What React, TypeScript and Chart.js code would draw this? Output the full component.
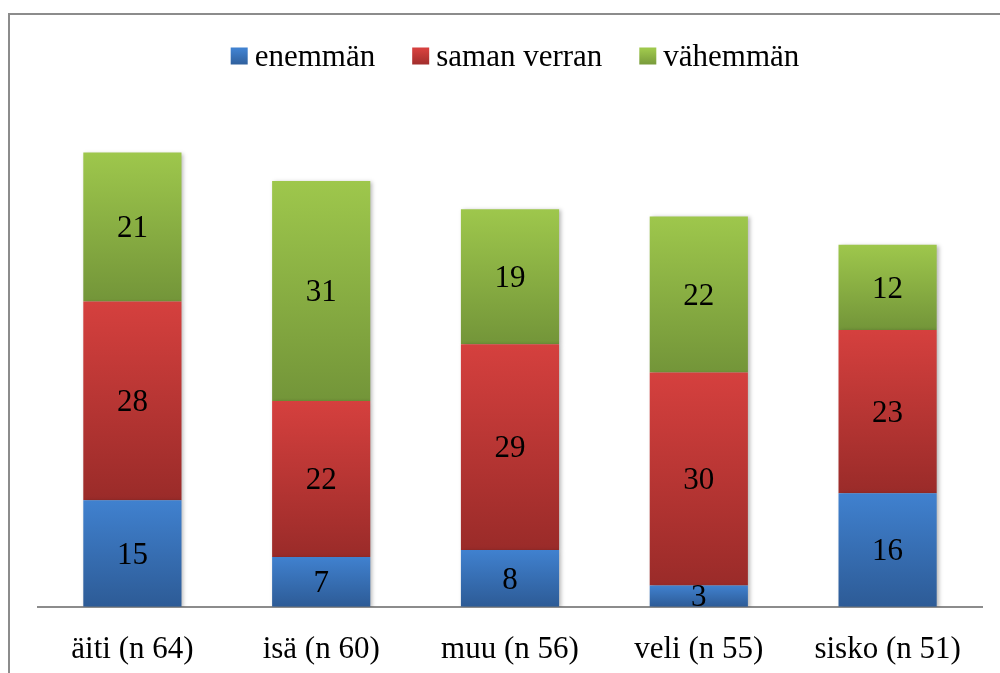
import React, { useEffect, useRef } from "react";
import { Chart, registerables } from "chart.js";

Chart.register(...registerables);

const categories = ["äiti (n 64)", "isä (n 60)", "muu (n 56)", "veli (n 55)", "sisko (n 51)"];
const seriesNames = ["enemmän", "saman verran", "vähemmän"];
const enemman = [15, 7, 8, 3, 16];
const samanVerran = [28, 22, 29, 30, 23];
const vahemman = [21, 31, 19, 22, 12];
const seriesValues = [enemman, samanVerran, vahemman];

const gradTop = ["#4081cf", "#d5403e", "#9ec74c"];
const gradBottom = ["#2d5b96", "#9a2b29", "#739539"];
const legendFill = ["#3a73bb", "#c03936", "#8db044"];

const FONT = "'Liberation Serif', 'Times New Roman', serif";

export default function App() {
  const ref = useRef<HTMLCanvasElement | null>(null);

  useEffect(() => {
    if (!ref.current) return;

    const framePlugin = {
      id: "frame",
      beforeDraw(chart: any) {
        const c = chart.ctx;
        c.save();
        c.fillStyle = "#ffffff";
        c.fillRect(0, 0, chart.width, chart.height);
        c.strokeStyle = "#8c8c8c";
        c.lineWidth = 2;
        c.beginPath();
        c.moveTo(9, chart.height + 5);
        c.lineTo(9, 14);
        c.lineTo(chart.width + 5, 14);
        c.stroke();
        c.restore();
      },
    };

    const shadowPlugin = {
      id: "barShadow",
      beforeDatasetsDraw(chart: any) {
        const c = chart.ctx;
        c.save();
        c.shadowColor = "rgba(0,0,0,0.28)";
        c.shadowBlur = 4;
        c.shadowOffsetX = 2;
        c.shadowOffsetY = 1;
      },
      afterDatasetsDraw(chart: any) {
        chart.ctx.restore();
      },
    };

    const labelPlugin = {
      id: "segLabels",
      afterDatasetsDraw(chart: any) {
        const c = chart.ctx;
        c.save();
        c.shadowColor = "transparent";
        c.fillStyle = "#000000";
        c.font = `31px ${FONT}`;
        c.textAlign = "center";
        c.textBaseline = "middle";
        chart.data.datasets.forEach((ds: any, di: number) => {
          const meta = chart.getDatasetMeta(di);
          meta.data.forEach((el: any, i: number) => {
            const v = ds.data[i];
            const y = (el.y + el.base) / 2;
            c.fillText(String(v), el.x, y + 2);
          });
        });
        c.restore();
      },
    };

    const legendPlugin = {
      id: "customLegend",
      afterDraw(chart: any) {
        const c = chart.ctx;
        c.save();
        c.font = `31px ${FONT}`;
        c.textBaseline = "middle";
        c.textAlign = "left";
        const box = 17;
        const gap = 7;
        const spacing = 37;
        const widths = seriesNames.map((n) => c.measureText(n).width);
        const total =
          widths.reduce((a, w) => a + box + gap + w, 0) + spacing * (seriesNames.length - 1);
        let x = 515 - total / 2;
        const cy = 58;
        seriesNames.forEach((n, i) => {
          const g = c.createLinearGradient(0, cy - box / 2, 0, cy + box / 2);
          g.addColorStop(0, gradTop[i]);
          g.addColorStop(1, gradBottom[i]);
          c.fillStyle = g;
          c.fillRect(x, cy - box / 2 - 2, box, box);
          c.fillStyle = "#000000";
          c.fillText(n, x + box + gap, cy);
          x += box + gap + widths[i] + spacing;
        });
        c.restore();
      },
    };

    const makeBg = (di: number) => (ctx: any) => {
      const chart = ctx.chart;
      const ys = chart.scales && chart.scales.y;
      if (!chart.chartArea || !ys || ctx.type !== "data") return legendFill[di];
      const i = ctx.dataIndex;
      let base = 0;
      for (let k = 0; k < di; k++) base += seriesValues[k][i];
      const top = ys.getPixelForValue(base + seriesValues[di][i]);
      const bottom = ys.getPixelForValue(base);
      if (!isFinite(top) || !isFinite(bottom) || top === bottom) return legendFill[di];
      const g = chart.ctx.createLinearGradient(0, top, 0, bottom);
      g.addColorStop(0, gradTop[di]);
      g.addColorStop(1, gradBottom[di]);
      return g;
    };

    const chart = new Chart(ref.current, {
      type: "bar",
      data: {
        labels: categories,
        datasets: seriesNames.map((name, di) => ({
          label: name,
          data: seriesValues[di],
          backgroundColor: makeBg(di),
          borderWidth: 0,
          barPercentage: 0.52,
          categoryPercentage: 1,
        })),
      },
      options: {
        responsive: false,
        animation: false,
        devicePixelRatio: 1,
        layout: { padding: { top: 110, left: 38, right: 18, bottom: -19 } },
        plugins: {
          legend: { display: false },
          tooltip: { enabled: false },
          title: { display: false },
        },
        scales: {
          x: {
            stacked: true,
            grid: { display: false, drawTicks: false, tickLength: 0 },
            border: { display: true, color: "#8c8c8c", width: 2 },
            ticks: {
              color: "#000000",
              padding: 24,
              font: { family: FONT, size: 31 },
              maxRotation: 0,
              autoSkip: false,
            },
          },
          y: {
            stacked: true,
            display: false,
            min: 0,
            max: 70,
          },
        },
      },
      plugins: [framePlugin, shadowPlugin, labelPlugin, legendPlugin],
    });

    return () => chart.destroy();
  }, []);

  return (
    <div style={{ position: "fixed", left: 0, top: 0, width: 1000, height: 673, background: "#fff" }}>
      <canvas ref={ref} width={1000} height={673} style={{ display: "block", width: 1000, height: 673 }} />
    </div>
  );
}
